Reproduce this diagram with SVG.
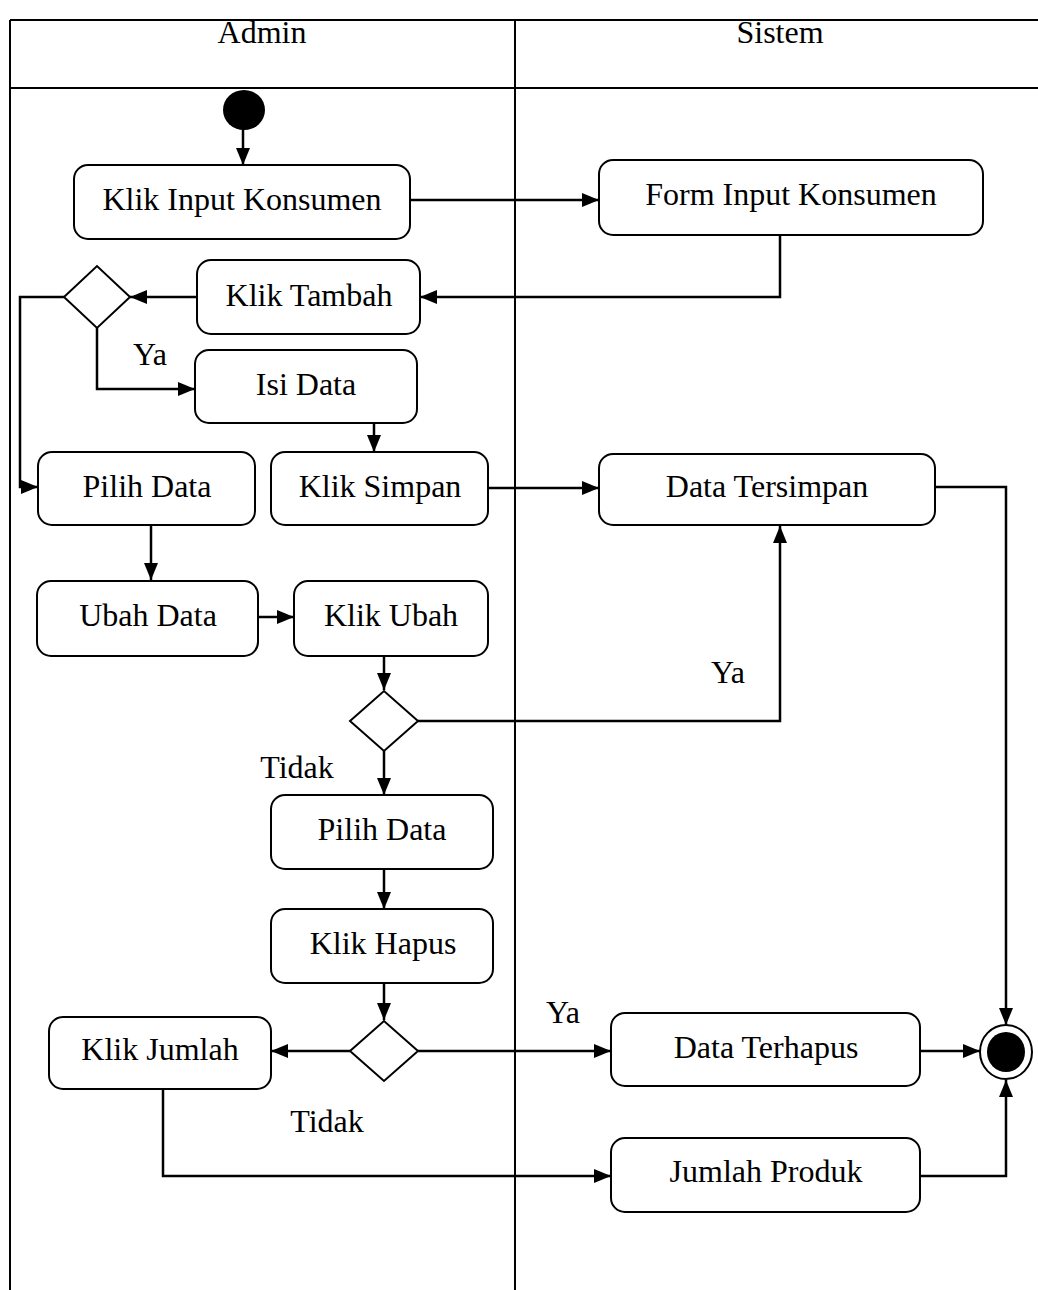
<svg xmlns="http://www.w3.org/2000/svg" width="1038" height="1290" viewBox="0 0 1038 1290">
<style>
  text { font-family: "Liberation Serif", "Times New Roman", serif; font-size: 32px; fill: #000; text-anchor: middle; }
  .box { fill: #fff; stroke: #000; stroke-width: 2; }
  .lane { fill: none; stroke: #000; stroke-width: 2; }
  .dia { fill: #fff; stroke: #000; stroke-width: 2; }
  .con { fill: none; stroke: #000; stroke-width: 2.5; }
  .arr { marker-end: url(#ah); }
</style>
<defs>
  <marker id="ah" markerUnits="userSpaceOnUse" markerWidth="18" markerHeight="16" refX="17" refY="8" orient="auto">
    <path d="M0,1 L17,8 L0,15 Z" fill="#000"/>
  </marker>
</defs>
<rect width="1038" height="1290" fill="#fff"/>
<g id="swimlanes">
  <line class="lane" x1="10" y1="20" x2="1038" y2="20"/>
  <line class="lane" x1="10" y1="20" x2="10" y2="1290"/>
  <line class="lane" x1="515" y1="20" x2="515" y2="1290"/>
  <line class="lane" x1="10" y1="88" x2="1038" y2="88"/>
  <text x="262" y="43">Admin</text>
  <text x="780" y="43">Sistem</text>
</g>
<g id="connectors">
  <line class="con arr" x1="243" y1="128" x2="243" y2="165"/>
  <line class="con arr" x1="410" y1="200" x2="599" y2="200"/>
  <polyline class="con arr" points="780,236 780,297 420,297"/>
  <line class="con arr" x1="197" y1="297" x2="130" y2="297"/>
  <polyline class="con arr" points="64,297 20,297 20,487 38,487"/>
  <polyline class="con arr" points="97,328 97,389 195,389"/>
  <line class="con arr" x1="374" y1="423" x2="374" y2="452"/>
  <line class="con arr" x1="488" y1="488" x2="599" y2="488"/>
  <polyline class="con arr" points="935,487 1006,487 1006,1025"/>
  <line class="con arr" x1="151" y1="525" x2="151" y2="580"/>
  <line class="con arr" x1="258" y1="617" x2="294" y2="617"/>
  <line class="con arr" x1="384" y1="656" x2="384" y2="690"/>
  <polyline class="con arr" points="418,721 780,721 780,526"/>
  <line class="con arr" x1="384" y1="751" x2="384" y2="795"/>
  <line class="con arr" x1="384" y1="869" x2="384" y2="909"/>
  <line class="con arr" x1="384" y1="983" x2="384" y2="1020"/>
  <line class="con arr" x1="350" y1="1051" x2="271" y2="1051"/>
  <line class="con arr" x1="418" y1="1051" x2="611" y2="1051"/>
  <line class="con arr" x1="920" y1="1051" x2="980" y2="1051"/>
  <polyline class="con arr" points="163,1089 163,1176 611,1176"/>
  <polyline class="con arr" points="920,1176 1006,1176 1006,1080"/>
  <text x="150" y="365">Ya</text>
  <text x="728" y="683">Ya</text>
  <text x="297" y="778">Tidak</text>
  <text x="563" y="1023">Ya</text>
  <text x="327" y="1132">Tidak</text>
</g>
<g id="start"><ellipse cx="244" cy="110" rx="21" ry="20" fill="#000"/></g>
<g id="klik-input-konsumen"><rect class="box" x="74" y="165" width="336" height="74" rx="14"/><text x="242" y="210">Klik Input Konsumen</text></g>
<g id="form-input-konsumen"><rect class="box" x="599" y="160" width="384" height="75" rx="14"/><text x="791" y="205">Form Input Konsumen</text></g>
<g id="klik-tambah"><rect class="box" x="197" y="260" width="223" height="74" rx="14"/><text x="309" y="306">Klik Tambah</text></g>
<g id="decision-1"><polygon class="dia" points="64,297 97,266 130,297 97,328"/></g>
<g id="isi-data"><rect class="box" x="195" y="350" width="222" height="73" rx="14"/><text x="306" y="395">Isi Data</text></g>
<g id="pilih-data-1"><rect class="box" x="38" y="452" width="217" height="73" rx="14"/><text x="147" y="497">Pilih Data</text></g>
<g id="klik-simpan"><rect class="box" x="271" y="452" width="217" height="73" rx="14"/><text x="380" y="497">Klik Simpan</text></g>
<g id="data-tersimpan"><rect class="box" x="599" y="454" width="336" height="71" rx="14"/><text x="767" y="497">Data Tersimpan</text></g>
<g id="ubah-data"><rect class="box" x="37" y="581" width="221" height="75" rx="14"/><text x="148" y="626">Ubah Data</text></g>
<g id="klik-ubah"><rect class="box" x="294" y="581" width="194" height="75" rx="14"/><text x="391" y="626">Klik Ubah</text></g>
<g id="decision-2"><polygon class="dia" points="350,721 384,691 418,721 384,751"/></g>
<g id="pilih-data-2"><rect class="box" x="271" y="795" width="222" height="74" rx="14"/><text x="382" y="840">Pilih Data</text></g>
<g id="klik-hapus"><rect class="box" x="271" y="909" width="222" height="74" rx="14"/><text x="383" y="954">Klik Hapus</text></g>
<g id="decision-3"><polygon class="dia" points="350,1051 384,1021 418,1051 384,1081"/></g>
<g id="klik-jumlah"><rect class="box" x="49" y="1017" width="222" height="72" rx="14"/><text x="160" y="1060">Klik Jumlah</text></g>
<g id="data-terhapus"><rect class="box" x="611" y="1013" width="309" height="73" rx="14"/><text x="766" y="1058">Data Terhapus</text></g>
<g id="jumlah-produk"><rect class="box" x="611" y="1138" width="309" height="74" rx="14"/><text x="766" y="1182">Jumlah Produk</text></g>
<g id="end"><ellipse cx="1006" cy="1052" rx="26" ry="27" fill="#fff" stroke="#000" stroke-width="2"/><ellipse cx="1006" cy="1052" rx="19" ry="20" fill="#000"/></g>
</svg>
